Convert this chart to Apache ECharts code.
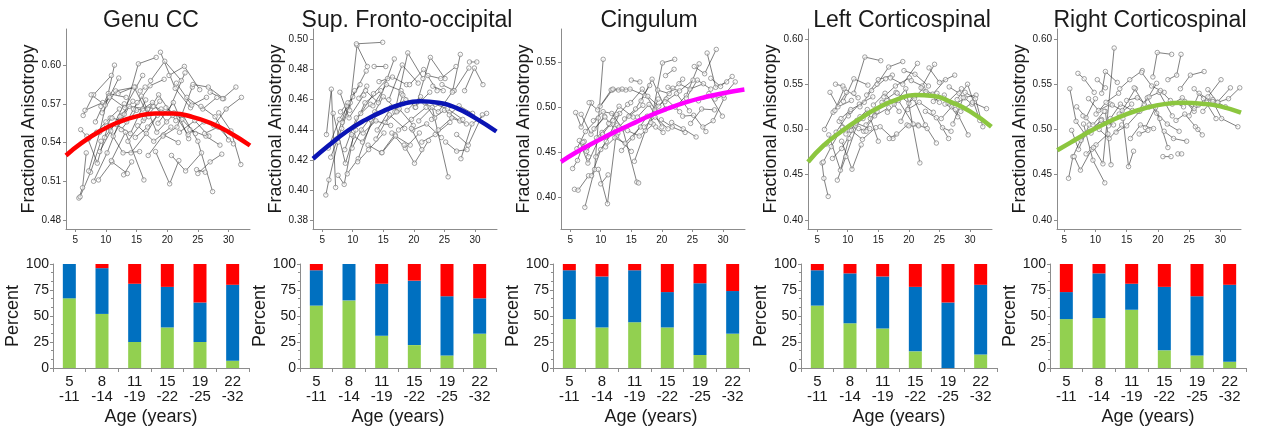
<!DOCTYPE html>
<html><head><meta charset="utf-8">
<script src="https://cdn.jsdelivr.net/npm/echarts@6/dist/echarts.min.js"></script>
<style>html,body{margin:0;padding:0;background:#fff}#c{width:1274px;height:428px}</style>
</head><body><div id="c"></div>
<script>
// ---------- DATA ----------
const titles = ['Genu CC', 'Sup. Fronto-occipital', 'Cingulum', 'Left Corticospinal', 'Right Corticospinal'];

// longitudinal subjects: [age1, FA1, age2, FA2, (age3, FA3)]
const genuCC = [
[5.6,0.497, 6.2,0.505, 6.8,0.532],[5.8,0.498, 7.5,0.517, 9.2,0.541],[5.9,0.550, 7.2,0.543],
[6.3,0.561, 8.0,0.577, 10.9,0.592],[6.6,0.565, 9.5,0.571],[6.9,0.545, 8.6,0.524, 10.7,0.559],
[7.2,0.518, 9.0,0.548, 11.4,0.600],[7.6,0.577, 9.9,0.569, 12.1,0.590],[8.0,0.510, 10.2,0.532, 12.6,0.561],
[8.3,0.556, 10.4,0.578, 13.3,0.575],[8.8,0.511, 11.0,0.525, 13.5,0.516],[9.0,0.533, 10.8,0.549, 13.0,0.570],
[9.4,0.563, 11.6,0.580, 14.8,0.583],[9.8,0.544, 12.3,0.560, 14.4,0.572],[10.1,0.553, 12.8,0.532, 15.5,0.533],
[10.5,0.576, 13.1,0.567, 16.0,0.592],[10.9,0.526, 13.2,0.548, 16.2,0.511],[11.2,0.545, 13.8,0.568, 16.8,0.566],
[11.7,0.554, 14.0,0.547, 16.5,0.573],[12.0,0.578, 14.6,0.583, 17.0,0.560],[12.5,0.550, 15.0,0.565, 17.6,0.568],
[13.0,0.562, 15.3,0.601, 18.2,0.606],[13.6,0.541, 16.1,0.557, 18.8,0.572],[14.1,0.532, 16.6,0.547, 19.0,0.566],
[14.5,0.566, 17.2,0.584, 19.5,0.589],[15.2,0.553, 17.8,0.541, 20.6,0.552],[15.8,0.576, 18.3,0.548, 20.9,0.561],
[16.3,0.559, 18.6,0.577, 21.4,0.557],[16.9,0.530, 19.4,0.546, 21.8,0.540],[17.3,0.588, 19.6,0.603, 22.3,0.588],
[17.8,0.568, 20.1,0.563, 22.9,0.594],[18.1,0.533, 20.4,0.508, 21.9,0.526],[18.5,0.555, 21.0,0.571, 23.5,0.543],
[18.9,0.610, 21.3,0.582, 23.8,0.567],[19.3,0.545, 21.6,0.552, 24.1,0.583],[19.8,0.567, 22.4,0.558, 24.6,0.547],
[20.3,0.592, 22.8,0.599, 25.3,0.581],[20.7,0.530, 23.0,0.518, 25.6,0.532],[21.1,0.563, 23.4,0.546, 26.0,0.556],
[21.5,0.586, 24.0,0.569, 26.4,0.575],[22.0,0.548, 24.5,0.557, 26.8,0.545],[22.6,0.561, 25.0,0.541, 27.4,0.502],
[23.2,0.575, 25.8,0.566, 28.1,0.575],[23.7,0.550, 26.3,0.545, 28.6,0.538],[24.2,0.585, 26.7,0.583, 29.2,0.574],
[25.0,0.516, 27.0,0.525, 28.9,0.531],[25.5,0.568, 27.8,0.560, 30.0,0.542],[26.1,0.547, 28.3,0.552, 30.8,0.539],
[27.0,0.579, 29.0,0.574, 31.2,0.583],[27.6,0.553, 29.6,0.566, 32.1,0.575],[28.4,0.563, 30.4,0.549, 32.0,0.523],
[12.9,0.515, 14.2,0.525],[15.6,0.580, 16.4,0.583],[9.2,0.568, 10.6,0.575],[24.8,0.519, 26.2,0.517],
[8.5,0.548, 10.0,0.556, 12.2,0.566],[11.0,0.559, 13.4,0.556, 15.1,0.571],[14.8,0.544, 16.8,0.552, 18.4,0.561],
[16.0,0.566, 17.6,0.571, 19.9,0.556]
];
const supFronto = [
[5.6,0.397, 6.1,0.407, 7.6,0.432],[5.7,0.437, 6.5,0.467, 7.2,0.402],[6.0,0.428, 7.8,0.447, 9.6,0.458],
[6.4,0.422, 8.2,0.441, 10.3,0.466],[6.8,0.451, 8.8,0.418, 10.5,0.440],[7.3,0.434, 9.0,0.456, 11.2,0.470],
[7.6,0.410, 8.6,0.404, 10.1,0.436],[7.9,0.465, 9.4,0.448, 11.8,0.463],[8.3,0.445, 10.0,0.462, 12.2,0.479],
[8.7,0.427, 10.6,0.448, 12.9,0.457],[9.1,0.411, 10.9,0.421, 13.1,0.446],[9.5,0.453, 10.7,0.496, 12.4,0.482],
[9.8,0.437, 11.6,0.432, 14.0,0.451],[10.2,0.442, 12.0,0.458, 14.6,0.466],[10.6,0.497, 14.9,0.498],
[10.8,0.419, 12.6,0.427, 15.1,0.438],[11.3,0.451, 13.4,0.464, 15.7,0.474],[11.7,0.438, 13.8,0.446, 16.2,0.443],
[12.1,0.466, 14.2,0.458, 16.8,0.487],[12.5,0.430, 14.7,0.425, 16.9,0.437],[12.9,0.447, 15.0,0.462, 17.4,0.453],
[13.3,0.456, 15.5,0.470, 17.9,0.466],[13.8,0.434, 16.0,0.450, 18.5,0.441],[14.3,0.472, 16.5,0.475, 18.8,0.470],
[14.8,0.425, 17.0,0.436, 19.4,0.430],[15.3,0.445, 17.6,0.454, 19.9,0.443],[15.9,0.460, 18.1,0.483, 20.7,0.471],
[16.4,0.438, 18.6,0.428, 20.9,0.438],[16.9,0.452, 19.0,0.491, 21.5,0.474],[17.5,0.440, 19.6,0.447, 22.0,0.455],
[18.0,0.464, 20.2,0.455, 22.6,0.465],[18.4,0.430, 20.1,0.418, 22.4,0.433],[18.9,0.453, 21.1,0.462, 23.4,0.448],
[19.3,0.470, 21.6,0.480, 23.8,0.466],[19.8,0.440, 22.1,0.444, 24.5,0.435],[20.3,0.455, 22.7,0.488, 25.1,0.474],
[20.8,0.446, 23.0,0.455, 25.6,0.409],[21.3,0.432, 23.5,0.437, 25.9,0.445],[21.8,0.458, 24.0,0.452, 26.4,0.466],
[22.3,0.476, 24.4,0.474, 26.9,0.482],[22.9,0.447, 25.0,0.453, 27.5,0.446],[23.5,0.457, 25.5,0.454, 28.0,0.447],
[24.0,0.440, 26.2,0.448, 28.6,0.444],[24.6,0.470, 26.6,0.466, 29.0,0.481],[25.2,0.432, 27.0,0.426, 28.7,0.427],
[25.8,0.450, 27.4,0.456, 29.6,0.451],[26.3,0.465, 27.6,0.490],[27.0,0.437, 28.9,0.430, 31.2,0.450],
[27.7,0.421, 29.5,0.444, 31.9,0.451],[28.3,0.466, 29.9,0.481, 31.3,0.470],[29.1,0.485, 30.3,0.485],
[8.0,0.452, 9.2,0.458],[11.0,0.461, 12.3,0.469],[13.5,0.482, 15.4,0.482],[17.2,0.452, 18.2,0.463],
[19.6,0.441, 21.3,0.427],[23.1,0.469, 24.8,0.466],[9.9,0.428, 11.4,0.440, 13.6,0.452],[14.0,0.440, 16.3,0.455, 18.7,0.460]
];
const cingulum = [
[5.4,0.432, 6.2,0.441, 7.3,0.462],[5.7,0.409, 6.3,0.408, 8.0,0.424],[5.9,0.494, 6.8,0.478, 8.5,0.505],
[6.1,0.454, 7.5,0.473, 9.6,0.488],[6.5,0.463, 7.9,0.438, 10.2,0.472],[6.8,0.492, 8.4,0.470, 10.6,0.490],
[7.4,0.389, 9.0,0.431, 10.4,0.553],[7.7,0.451, 9.3,0.466, 11.5,0.481],[8.1,0.505, 9.5,0.497, 11.9,0.519],
[8.5,0.424, 10.0,0.453, 12.3,0.476],[8.9,0.476, 10.7,0.489, 12.8,0.471],[9.2,0.445, 10.9,0.462, 13.1,0.493],
[9.6,0.431, 11.1,0.393, 12.7,0.480],[9.9,0.501, 11.7,0.519, 14.1,0.519],[10.3,0.470, 12.0,0.485, 14.4,0.503],
[10.8,0.456, 12.6,0.468, 15.0,0.451],[11.3,0.482, 13.0,0.501, 15.3,0.489],[11.8,0.493, 13.6,0.476, 15.9,0.417, 16.2,0.416],
[12.3,0.466, 14.0,0.460, 16.5,0.478],[12.9,0.519, 14.8,0.520, 17.2,0.513],[13.4,0.452, 15.2,0.466, 17.6,0.490],
[13.9,0.487, 15.7,0.498, 18.0,0.524],[14.4,0.474, 16.3,0.468, 18.6,0.481],[14.9,0.505, 16.8,0.520, 19.1,0.495],
[15.5,0.440, 17.3,0.474, 19.4,0.509],[16.0,0.489, 17.9,0.503, 20.0,0.478],[16.6,0.507, 18.4,0.531, 20.6,0.498],
[17.1,0.478, 18.9,0.489, 21.0,0.476],[17.7,0.512, 19.5,0.501, 21.8,0.521],[18.2,0.483, 20.1,0.549, 22.1,0.553],
[18.8,0.497, 20.7,0.509, 22.9,0.495],[19.3,0.519, 21.2,0.515, 23.4,0.531],[19.9,0.486, 21.7,0.478, 23.8,0.472],
[20.5,0.506, 22.4,0.515, 24.5,0.496],[21.0,0.522, 22.9,0.518, 25.1,0.530],[21.6,0.483, 23.5,0.476, 25.6,0.467],
[22.2,0.500, 24.0,0.513, 26.1,0.548],[22.8,0.526, 24.6,0.520, 26.8,0.526],[23.4,0.490, 25.2,0.491, 27.2,0.473],
[24.0,0.510, 25.8,0.530, 28.0,0.520],[24.7,0.482, 26.5,0.498, 28.6,0.497],[25.3,0.545, 27.0,0.537, 28.9,0.564],
[26.0,0.507, 27.7,0.515, 29.9,0.490],[26.7,0.478, 28.4,0.485, 30.2,0.510],[27.4,0.560, 28.8,0.522, 30.6,0.528],
[28.0,0.532, 29.6,0.523, 31.5,0.534],[28.7,0.509, 30.1,0.513, 32.0,0.528],[7.1,0.461, 8.0,0.445],
[12.0,0.520, 13.5,0.520],[15.0,0.530, 16.4,0.528],[20.6,0.535, 22.0,0.542],[10.0,0.415, 11.2,0.425],
[19.0,0.478, 20.2,0.472],[8.8,0.485, 10.4,0.495, 12.6,0.492],[13.0,0.478, 14.6,0.490, 16.9,0.502]
];
const leftCST = [
[5.8,0.463, 6.1,0.446, 6.8,0.426],[6.0,0.464, 7.3,0.481, 9.1,0.502],[6.2,0.500, 7.6,0.519, 9.8,0.541],
[6.5,0.484, 8.1,0.497, 10.4,0.520],[6.9,0.494, 8.8,0.455, 10.2,0.490],[7.1,0.541, 8.4,0.525, 10.6,0.532],
[7.5,0.468, 9.0,0.479, 11.3,0.504],[7.9,0.521, 9.4,0.545, 11.7,0.535],[8.3,0.444, 9.7,0.470, 12.0,0.514],
[8.6,0.509, 10.3,0.499, 12.5,0.512],[9.0,0.487, 10.7,0.456, 12.2,0.483],[9.3,0.531, 11.0,0.556, 13.3,0.549],
[9.7,0.495, 11.4,0.507, 13.6,0.501],[10.1,0.515, 11.9,0.528, 14.1,0.536],[10.6,0.499, 12.4,0.489, 14.6,0.502],
[11.0,0.540, 12.8,0.580, 15.4,0.576],[11.5,0.510, 13.2,0.522, 15.0,0.487],[12.0,0.525, 13.9,0.543, 16.2,0.556],
[12.6,0.498, 14.4,0.515, 16.7,0.524],[13.1,0.538, 15.0,0.555, 17.3,0.560],[13.7,0.512, 15.6,0.530, 17.9,0.541],
[14.2,0.527, 16.1,0.540, 18.4,0.520],[14.8,0.550, 16.7,0.569, 19.0,0.575],[15.3,0.503, 17.4,0.490, 19.7,0.505],
[15.9,0.536, 17.8,0.548, 20.1,0.557],[16.5,0.519, 18.3,0.532, 20.7,0.506],[17.0,0.557, 19.0,0.550, 21.4,0.573],
[17.6,0.528, 19.5,0.545, 21.8,0.463],[18.1,0.540, 20.0,0.529, 22.3,0.545],[18.7,0.509, 20.6,0.537, 22.7,0.505],
[19.2,0.565, 21.0,0.561, 23.2,0.548],[19.8,0.522, 21.7,0.530, 24.0,0.519],[20.4,0.554, 22.2,0.548, 24.2,0.572],
[20.9,0.534, 22.8,0.542, 25.0,0.530],[21.5,0.505, 23.0,0.501, 24.5,0.485],[22.0,0.546, 23.9,0.539, 26.0,0.555],
[22.7,0.520, 24.5,0.513, 26.5,0.490],[23.3,0.568, 25.0,0.552, 27.5,0.560],[24.0,0.531, 25.8,0.538, 28.0,0.514],
[24.6,0.540, 26.3,0.530, 28.6,0.545],[25.3,0.512, 27.0,0.525, 29.2,0.535],[25.9,0.528, 27.6,0.522, 29.7,0.494],
[26.6,0.547, 28.2,0.540, 30.3,0.528],[27.2,0.506, 28.9,0.535, 31.0,0.538],[27.9,0.533, 29.6,0.550, 31.6,0.510],
[28.5,0.520, 30.4,0.530, 32.7,0.523],[29.2,0.541, 30.9,0.534, 32.1,0.503],[8.0,0.550, 9.2,0.548],
[11.8,0.501, 13.0,0.498],[16.8,0.490, 18.0,0.495],[20.0,0.504, 21.6,0.504],[25.5,0.502, 26.9,0.498],
[8.9,0.512, 10.5,0.522, 12.7,0.530],[13.0,0.505, 14.8,0.520, 16.4,0.532]
];
const rightCST = [
[5.7,0.446, 6.4,0.470, 7.8,0.491],[5.9,0.545, 6.9,0.509, 8.3,0.495],[6.2,0.499, 7.3,0.478, 9.0,0.505],
[6.6,0.470, 7.6,0.455, 9.4,0.478],[7.0,0.525, 8.5,0.513, 10.0,0.534],[7.2,0.562, 8.2,0.556, 9.8,0.541],
[7.7,0.488, 9.1,0.498, 11.0,0.511],[8.1,0.506, 9.6,0.466, 11.5,0.441],[8.5,0.473, 10.1,0.483, 12.0,0.495],
[8.9,0.534, 10.5,0.521, 12.4,0.528],[9.3,0.496, 10.9,0.510, 12.9,0.505],[9.7,0.480, 11.2,0.462, 13.0,0.590],
[10.1,0.517, 11.7,0.530, 13.7,0.540],[10.6,0.500, 12.2,0.490, 14.2,0.505],[11.0,0.540, 11.6,0.564, 13.5,0.552],
[11.6,0.520, 12.5,0.461],[12.1,0.504, 13.8,0.517, 15.8,0.528],[12.7,0.527, 14.3,0.521, 16.4,0.545],
[13.3,0.497, 15.0,0.504, 17.1,0.520],[13.9,0.545, 15.5,0.555, 17.5,0.565],[14.4,0.512, 15.3,0.459, 16.1,0.476],
[15.0,0.532, 16.7,0.535, 18.6,0.525],[15.6,0.490, 17.2,0.505, 19.3,0.501],[16.2,0.546, 17.8,0.528, 19.8,0.551],
[16.8,0.520, 18.3,0.535, 20.3,0.512],[17.4,0.563, 19.0,0.548, 21.0,0.541],[18.0,0.502, 19.6,0.524, 21.6,0.480],
[18.6,0.536, 20.2,0.541, 22.3,0.515],[19.2,0.558, 19.9,0.585, 22.2,0.583],[19.8,0.518, 21.5,0.506, 23.4,0.498],
[20.4,0.543, 22.0,0.532, 24.1,0.525],[21.0,0.498, 22.5,0.490, 24.6,0.487],[21.6,0.555, 23.0,0.560, 23.7,0.583],
[22.3,0.528, 23.9,0.535, 25.8,0.520],[22.9,0.510, 24.3,0.517, 26.4,0.500],[23.6,0.545, 25.2,0.560, 27.4,0.564],
[24.3,0.531, 25.8,0.523, 27.8,0.530],[25.0,0.515, 26.6,0.540, 28.5,0.531],[25.8,0.545, 27.3,0.534, 29.3,0.512],
[26.5,0.527, 28.0,0.536, 30.1,0.555],[27.2,0.520, 28.8,0.533, 30.8,0.525],[28.0,0.544, 29.5,0.530, 31.6,0.546],
[28.8,0.531, 30.2,0.512, 32.8,0.503],[29.6,0.530, 31.3,0.534, 33.1,0.546],[17.0,0.495, 18.4,0.499],
[20.8,0.470, 22.1,0.470],[23.2,0.473, 23.8,0.473],[10.3,0.555, 11.6,0.546],[26.0,0.503, 27.1,0.494],
[8.0,0.515, 9.6,0.505, 11.4,0.520],[12.4,0.512, 14.0,0.528, 15.9,0.521]
];

// fitted trajectories
const fitAgesA = [3.5, 6, 9, 12, 15, 18, 21, 24, 27, 30, 33.5];
const fitGenu = [0.530, 0.5395, 0.5487, 0.5557, 0.5603, 0.5625, 0.5625, 0.5600, 0.5553, 0.5482, 0.5377];
const fitSup  = [0.421, 0.4295, 0.439, 0.4465, 0.4525, 0.457, 0.459, 0.458, 0.4545, 0.448, 0.439];
const fitCing = [0.4395, 0.450, 0.461, 0.4715, 0.481, 0.4905, 0.4985, 0.5055, 0.511, 0.5155, 0.5195];
const fitLCST = [0.464, 0.482, 0.498, 0.512, 0.524, 0.533, 0.538, 0.537, 0.530, 0.520, 0.503];
const fitAgesR = [3.9, 6, 9, 12, 15, 18, 21, 24, 27, 30, 33.3];
const fitRCST = [0.477, 0.4855, 0.4975, 0.508, 0.517, 0.5235, 0.528, 0.5295, 0.5285, 0.5255, 0.5185];

// percent bars by age group
const ageGroups = ['5\n-11', '8\n-14', '11\n-19', '15\n-22', '19\n-25', '22\n-32'];
const greenPct = [[67,52,25,39,25,7],[60,65,31,22,12,33],[47,39,44,39,12.5,33],[60,43,38,16,0,13],[47,48,56,17,12,6]];
const bluePct  = [[33,44,56,39,38,73],[34,35,50,62,57,34],[47,49,50,34,69,41],[34,48,50,62,63,67],[26,43,25,61,57,74]];
const redPct   = [[0,4,19,22,37,20],[6,0,19,16,31,33],[6,12,6,27,18.5,26],[6,9,12,22,37,20],[27,9,19,22,31,20]];

// tick labels
const yTicksTop = [[0.48,0.51,0.54,0.57,0.60],[0.38,0.40,0.42,0.44,0.46,0.48,0.50],[0.40,0.45,0.50,0.55],[0.40,0.45,0.50,0.55,0.60],[0.40,0.45,0.50,0.55,0.60]];
const xTicksTop = [5,10,15,20,25,30];

// ---------- LAYOUT / STYLE ----------
const FONT = '"Liberation Sans", Arial, Helvetica, sans-serif';
const subjects = [genuCC, supFronto, cingulum, leftCST, rightCST];
const fits = [[fitAgesA,fitGenu],[fitAgesA,fitSup],[fitAgesA,fitCing],[fitAgesA,fitLCST],[fitAgesR,fitRCST]];
const fitColors = ['#ff0000', '#0a14b4', '#ff00ff', '#8cc63f', '#8cc63f'];
const yRange = [[0.473,0.628],[0.3745,0.5068],[0.365,0.5866],[0.390,0.611],[0.390,0.611]];
const xRange = [[3.5,33.5],[3.5,33.6],[3.5,33.6],[3.5,33.6],[3.85,33.3]];
const topLeft = [66, 313, 561, 808, 1057];
const botLeft = [53, 300, 553, 801, 1050];
const titleX = [146, 402, 644, 897, 1145];
const AX = '#8c8c8c', TXT = '#1a1a1a';

const grid = [], xAxis = [], yAxis = [], series = [], title = [];
for (let p = 0; p < 5; p++) {
  title.push({text: titles[p], left: titleX[p], top: 4, textAlign: 'center',
    textStyle: {fontFamily: FONT, fontSize: 23, fontWeight: 'normal', color: TXT}});
  grid.push({left: topLeft[p], top: 29, width: 184, height: 200});
  xAxis.push({type: 'value', gridIndex: p, min: xRange[p][0], max: xRange[p][1],
    axisLine: {show: true, lineStyle: {color: AX, width: 1}},
    axisTick: {show: true, length: 3, customValues: xTicksTop, lineStyle: {color: AX}},
    axisLabel: {customValues: xTicksTop, fontFamily: FONT, fontSize: 10, color: TXT, margin: 6},
    splitLine: {show: false}});
  yAxis.push({type: 'value', gridIndex: p, min: yRange[p][0], max: yRange[p][1],
    name: 'Fractional Anisotropy', nameLocation: 'middle', nameGap: 28,
    nameTextStyle: {fontFamily: FONT, fontSize: 18, color: TXT},
    axisLine: {show: true, lineStyle: {color: AX, width: 1}},
    axisTick: {show: true, length: 3, customValues: yTicksTop[p], lineStyle: {color: AX}},
    axisLabel: {customValues: yTicksTop[p], formatter: v => v.toFixed(2), fontFamily: FONT, fontSize: 10, color: TXT, margin: 5},
    splitLine: {show: false}});
  subjects[p].forEach(s => {
    const pts = [];
    for (let i = 0; i < s.length; i += 2) pts.push([s[i], s[i + 1]]);
    series.push({type: 'line', xAxisIndex: p, yAxisIndex: p, data: pts, symbol: 'circle', symbolSize: 4.5,
      showSymbol: true, silent: true, z: 2,
      lineStyle: {color: '#2a2a2a', width: 0.6},
      itemStyle: {color: 'rgba(255,255,255,0.6)', borderColor: '#7a7a7a', borderWidth: 0.7}});
  });
  series.push({type: 'line', xAxisIndex: p, yAxisIndex: p, data: fits[p][0].map((x, i) => [x, fits[p][1][i]]),
    smooth: true, symbol: 'none', silent: true, z: 5, lineStyle: {color: fitColors[p], width: 4.5, cap: 'butt'}});
}
for (let p = 0; p < 5; p++) {
  const g = 5 + p;
  grid.push({left: botLeft[p], top: 264, width: 196, height: 104});
  xAxis.push({type: 'category', gridIndex: g, data: ageGroups,
    name: 'Age (years)', nameLocation: 'middle', nameGap: 40,
    nameTextStyle: {fontFamily: FONT, fontSize: 18, color: TXT},
    axisLine: {show: true, lineStyle: {color: AX, width: 1}},
    axisTick: {show: true, length: 4, lineStyle: {color: AX}},
    axisLabel: {interval: 0, fontFamily: FONT, fontSize: 15, lineHeight: 15, color: TXT, margin: 6}});
  yAxis.push({type: 'value', gridIndex: g, min: 0, max: 100, interval: 25,
    name: 'Percent', nameLocation: 'middle', nameGap: 26,
    nameTextStyle: {fontFamily: FONT, fontSize: 18, color: TXT},
    axisLine: {show: true, lineStyle: {color: AX, width: 1}},
    axisTick: {show: true, length: 3, lineStyle: {color: AX}},
    minorTick: {show: true, splitNumber: 3, length: 2, lineStyle: {color: AX}},
    axisLabel: {fontFamily: FONT, fontSize: 14, color: TXT, margin: 4},
    splitLine: {show: false}});
  [[greenPct, '#92d050'], [bluePct, '#0070c0'], [redPct, '#ff0000']].forEach(([arr, col]) => {
    series.push({type: 'bar', xAxisIndex: g, yAxisIndex: g, stack: 'g' + p, data: arr[p], barWidth: 13,
      silent: true, itemStyle: {color: col}});
  });
}

const chart = echarts.init(document.getElementById('c'), null, {renderer: 'canvas'});
chart.setOption({animation: false, backgroundColor: '#fff', title, grid, xAxis, yAxis, series});
</script></body></html>
